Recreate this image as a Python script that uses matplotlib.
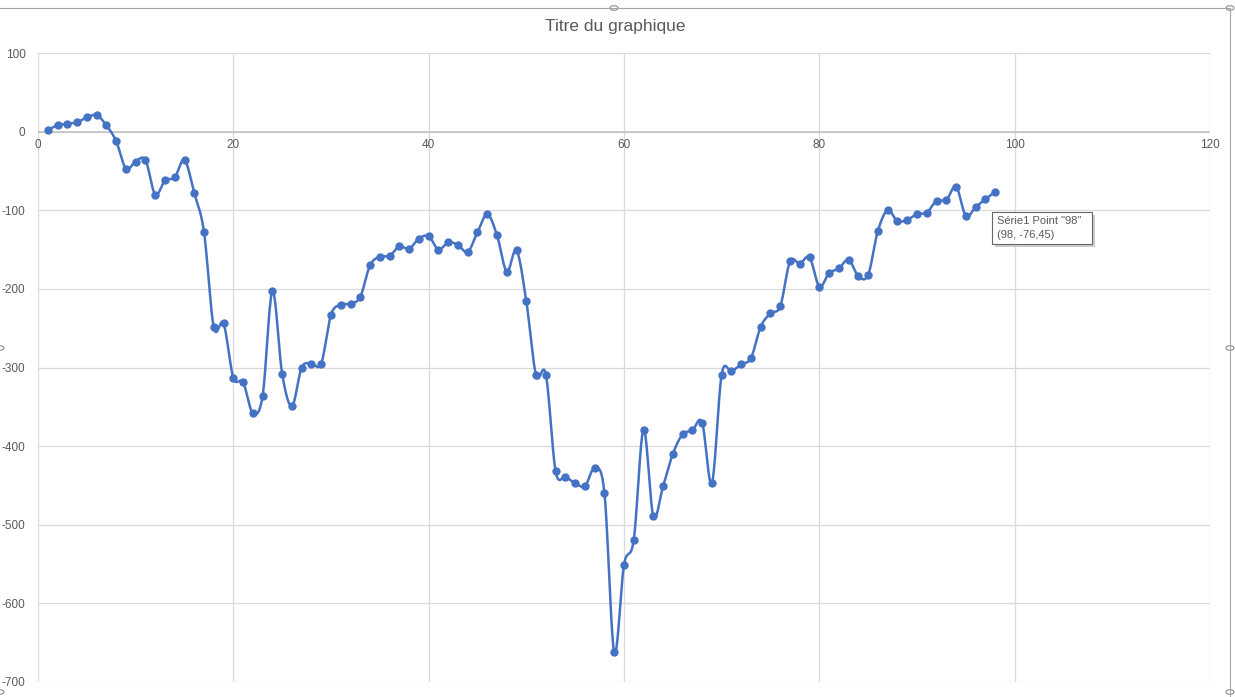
import numpy as np
import matplotlib
matplotlib.use("Agg")
import matplotlib.pyplot as plt
from matplotlib.patches import Rectangle, Circle

plt.rcParams['font.family'] = ['Liberation Sans', 'DejaVu Sans']
plt.rcParams['axes.unicode_minus'] = False

# valeurs (Série1, x = 1..98)
x_vals = list(range(1, 99))
y_vals = [
    2, 8, 10, 12, 18, 21, 8, -12, -47, -38,
    -36, -80, -62, -58, -36, -78, -128, -249, -244, -313,
    -319, -358, -336, -203, -308, -349, -300, -295, -295, -233,
    -220, -219, -210, -170, -159, -158, -146, -149, -136, -133,
    -150, -141, -144, -153, -128, -105, -132, -178, -151, -216,
    -310, -309, -432, -439, -447, -451, -428, -460, -662, -551,
    -519, -379, -489, -451, -410, -385, -380, -370, -447, -309,
    -305, -296, -288, -248, -231, -222, -165, -168, -160, -197,
    -180, -174, -163, -184, -182, -126, -100, -114, -112, -105,
    -103, -88, -87, -70, -107, -96, -86, -76.45,
]
x_ticks = [0, 20, 40, 60, 80, 100, 120]
y_ticks = [100, 0, -100, -200, -300, -400, -500, -600, -700]

blue = "#4472C4"
grey_txt = "#595959"
grid_c = "#d9d9d9"


def smooth(xs, ys, n=20):
    # courbe lissée façon Excel (Bezier / Catmull-Rom)
    xs = np.asarray(xs, float)
    ys = np.asarray(ys, float)
    px = np.concatenate([[xs[0]], xs, [xs[-1]]])
    py = np.concatenate([[ys[0]], ys, [ys[-1]]])
    t = np.linspace(0, 1, n, endpoint=False)
    outx, outy = [], []
    for i in range(1, len(px) - 2):
        p0x, p1x, p2x, p3x = px[i - 1], px[i], px[i + 1], px[i + 2]
        p0y, p1y, p2y, p3y = py[i - 1], py[i], py[i + 1], py[i + 2]
        c1x, c1y = p1x + (p2x - p0x) / 6, p1y + (p2y - p0y) / 6
        c2x, c2y = p2x - (p3x - p1x) / 6, p2y - (p3y - p1y) / 6
        b = [(1 - t) ** 3, 3 * (1 - t) ** 2 * t, 3 * (1 - t) * t ** 2, t ** 3]
        outx.append(b[0] * p1x + b[1] * c1x + b[2] * c2x + b[3] * p2x)
        outy.append(b[0] * p1y + b[1] * c1y + b[2] * c2y + b[3] * p2y)
    outx.append([xs[-1]])
    outy.append([ys[-1]])
    return np.concatenate(outx), np.concatenate(outy)


fig = plt.figure(figsize=(12.35, 6.97), dpi=100)
ax = fig.add_axes([38 / 1235, 1 - 682 / 697, (1210 - 38) / 1235, (682 - 53) / 697])

sx, sy = smooth(x_vals, y_vals)
ax.plot(sx, sy, color=blue, lw=1.8, zorder=3)
ax.plot(x_vals, y_vals, "o", color=blue, ms=5, zorder=4)

ax.set_xlim(0, 120)
ax.set_ylim(-700, 100)
ax.set_xticks(x_ticks)
ax.set_yticks(y_ticks)
ax.grid(True, color=grid_c, lw=0.9)
ax.set_axisbelow(True)
ax.axhline(0, color="#bfbfbf", lw=1.1, zorder=2)
for s in ax.spines.values():
    s.set_visible(False)
ax.tick_params(length=0, colors=grey_txt, labelsize=8.5)
ax.set_xticklabels([])
ax.tick_params(axis="y", pad=9)
# étiquettes de x sous l'axe à y = 0
for xt in x_ticks:
    ax.text(xt, -9, str(xt), ha="center", va="top", fontsize=8.5, color=grey_txt)

fig.text(615 / 1235, 1 - 27 / 697, "Titre du graphique", ha="center", va="center",
         fontsize=12.5, color=grey_txt)

# info-bulle
tip = Rectangle((992 / 1235, 1 - 244 / 697), 100 / 1235, 32 / 697, transform=fig.transFigure,
                facecolor="white", edgecolor="#666666", lw=0.8, zorder=10)
shadow = Rectangle((995 / 1235, 1 - 247 / 697), 100 / 1235, 32 / 697, transform=fig.transFigure,
                   facecolor="#cccccc", edgecolor="none", zorder=9)
fig.patches.extend([shadow, tip])
fig.text(997 / 1235, 1 - 221 / 697, 'Série1 Point "98"', fontsize=8, color=grey_txt, va="center", zorder=11)
fig.text(997 / 1235, 1 - 235 / 697, "(98, -76,45)", fontsize=8, color=grey_txt, va="center", zorder=11)

# cadre du graphique et poignées de sélection
fig.lines.append(plt.Line2D([0, 1230 / 1235], [1 - 8 / 697] * 2, transform=fig.transFigure, color="#a6a6a6", lw=0.8))
fig.lines.append(plt.Line2D([1230 / 1235] * 2, [0, 1 - 8 / 697], transform=fig.transFigure, color="#a6a6a6", lw=0.8))
for hx, hy in [(614, 8), (1230, 8), (1230, 348), (0, 348), (0, 692), (1230, 692)]:
    fig.patches.append(Circle((hx / 1235, 1 - hy / 697), 4 / 1235, transform=fig.transFigure,
                              facecolor="white", edgecolor="#8c8c8c", lw=0.8))

fig.savefig("out.png", dpi=100)
